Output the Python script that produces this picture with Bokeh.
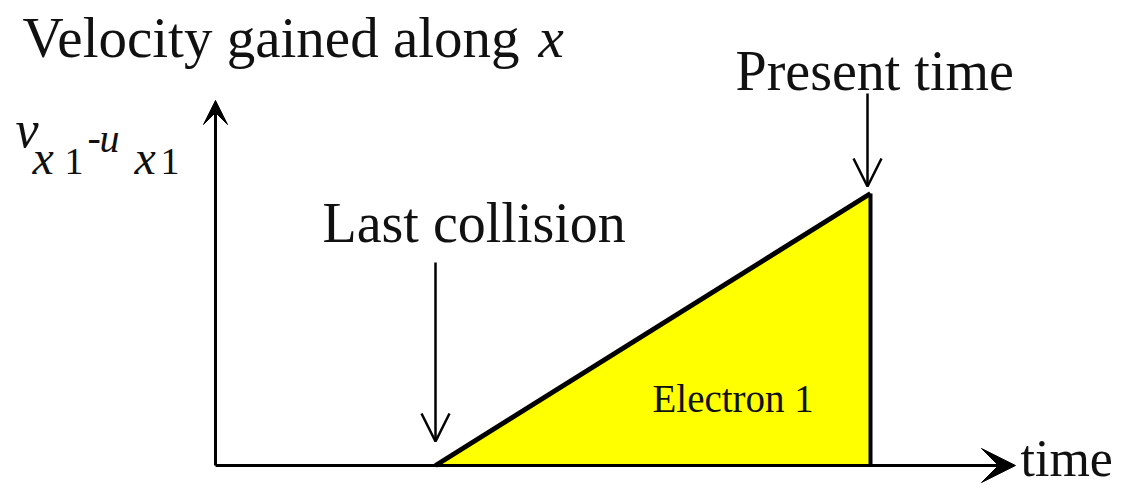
from bokeh.plotting import figure
from bokeh.models import Range1d, Arrow, VeeHead, OpenHead, Label
from bokeh.embed import file_html
from bokeh.resources import INLINE

# ---- data (diagram units: time and velocity gained) ----
event_names = ["Last collision", "Present time"]
event_times = [2.2, 6.55]          # time of last collision, present time
velocity_gained = [0.0, 2.72]      # v_x1 - u_x1 at those times
axis_time_max = 8.0
axis_velocity_max = 3.65
region_label = "Electron 1"
x_axis_label = "time"
title_text = "Velocity gained along"
title_var = "x"

FONT = "Liberation Serif"
INK = "#111111"

W, H = 1125, 489
p = figure(width=W, height=H,
           x_range=Range1d((0 - 215) / 100.0, (W - 215) / 100.0),
           y_range=Range1d((465 - H) / 100.0, 465 / 100.0),
           output_backend="svg", toolbar_location=None, min_border=0)
p.axis.visible = False
p.grid.visible = False
p.outline_line_color = None
p.background_fill_color = "white"

# page-pixel helpers for annotation placement
def X(px):
    return (px - 215) / 100.0

def Y(py):
    return (465 - py) / 100.0

# ---- yellow region (velocity grows linearly since last collision) ----
tri_x = [event_times[0], event_times[1], event_times[1]]
tri_y = [velocity_gained[0], velocity_gained[1], 0.0]
p.patch(tri_x, tri_y, fill_color="#FFFF00", line_color=None)
p.line([event_times[0], event_times[1]], [velocity_gained[0], velocity_gained[1]],
       line_color="black", line_width=5)
p.line([event_times[1], event_times[1]], [0.0, velocity_gained[1]],
       line_color="black", line_width=4)

# ---- axes as arrows ----
p.add_layout(Arrow(x_start=0, y_start=0, x_end=axis_time_max, y_end=0,
                   line_width=3, line_color="black",
                   end=VeeHead(size=34, fill_color="black", line_color="black", line_width=1)))
p.add_layout(Arrow(x_start=0, y_start=0, x_end=0, y_end=axis_velocity_max,
                   line_width=3, line_color="black",
                   end=VeeHead(size=24, fill_color="black", line_color="black", line_width=1)))

# ---- pointer arrows ----
p.add_layout(Arrow(x_start=event_times[0], y_start=Y(262), x_end=event_times[0],
                   y_end=velocity_gained[0] + 0.24,
                   line_width=2.5, line_color="black",
                   end=OpenHead(size=28, line_width=2.5, line_color="black")))
p.add_layout(Arrow(x_start=event_times[1] - 0.03, y_start=Y(93), x_end=event_times[1] - 0.03,
                   y_end=velocity_gained[1] + 0.07,
                   line_width=2.5, line_color="black",
                   end=OpenHead(size=28, line_width=2.5, line_color="black")))

def lab(text, px, py, size, style="normal", align="left"):
    py = py - 0.37 * size
    p.add_layout(Label(x=X(px), y=Y(py), text=text, text_font=FONT,
                       text_font_size=f"{size}px", text_font_style=style,
                       text_color=INK, text_align=align, text_baseline="alphabetic"))

# title
lab(title_text, 22, 58, 57)
lab(title_var, 538, 58, 57, "italic")

# y-axis label  v_x1 - u_x1
lab("v", 15, 148, 52, "italic")
lab("x", 32, 175, 48, "italic")
lab("1", 64, 175, 38)
lab("-", 87, 152, 40)
lab("u", 99, 153, 40, "italic")
lab("x", 134, 175, 48, "italic")
lab("1", 160, 175, 38)

# event labels
lab(event_names[0], 322, 243, 56)
lab(event_names[1], 735, 91, 56)
lab(region_label, 652, 412, 39)
lab(x_axis_label, 1020, 477, 52)

open("out.html", "w").write(file_html(p, INLINE))
